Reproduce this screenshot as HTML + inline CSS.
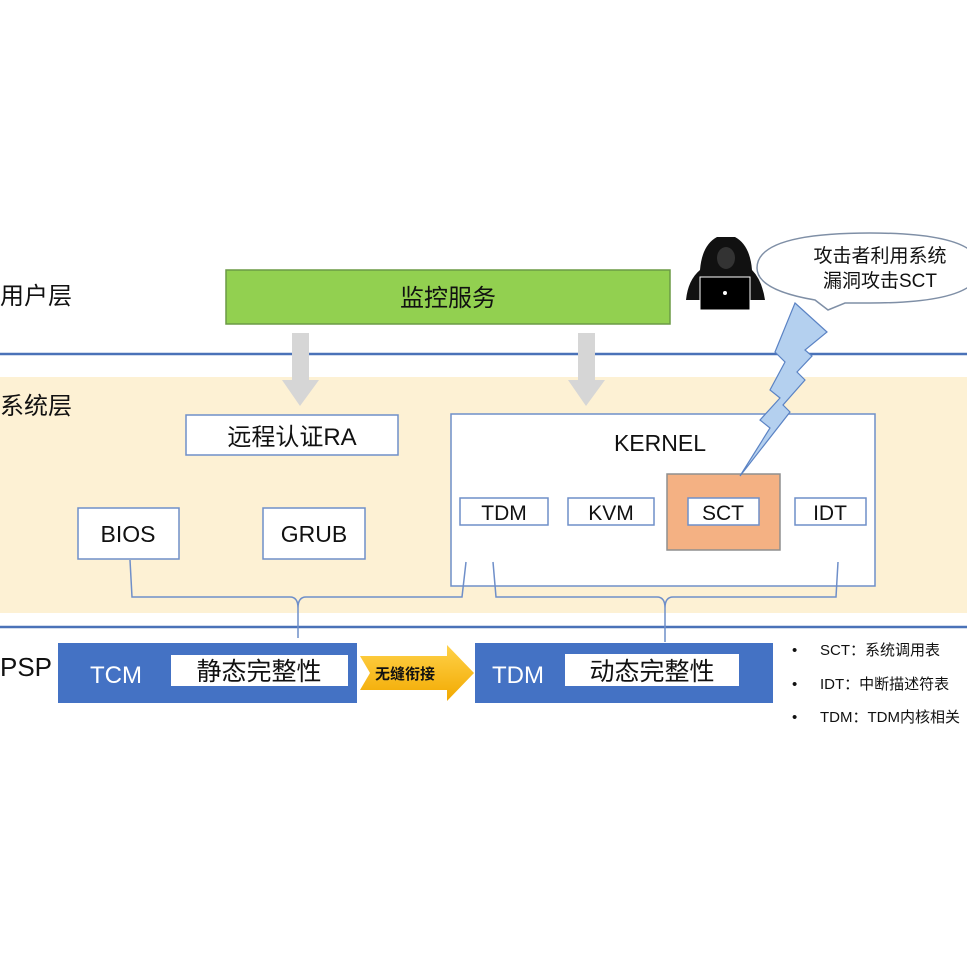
<!DOCTYPE html>
<html><head><meta charset="utf-8"><style>
html,body{margin:0;padding:0;background:#fff;}
svg{display:block;}
text{font-family:"Liberation Sans","Noto Sans CJK SC",sans-serif;}
</style></head><body>
<svg width="967" height="967" viewBox="0 0 967 967" xmlns="http://www.w3.org/2000/svg">
<defs>
<linearGradient id="ag" x1="0" y1="0" x2="0" y2="1">
<stop offset="0" stop-color="#ffd24a"/><stop offset="1" stop-color="#f2a900"/>
</linearGradient>
</defs>
<rect x="0" y="377" width="967" height="236" fill="#fdf1d4"/>
<line x1="0" y1="354" x2="967" y2="354" stroke="#4a72b8" stroke-width="2.5"/>
<line x1="0" y1="627" x2="967" y2="627" stroke="#4a72b8" stroke-width="2.5"/>
<text x="0" y="304" font-size="24" fill="#111">用户层</text>
<text x="0" y="414" font-size="24" fill="#111">系统层</text>
<text x="0" y="676" font-size="26" fill="#111">PSP</text>

<rect x="226" y="270" width="444" height="54" fill="#92d050" stroke="#6b9a45" stroke-width="1.5"/>
<text x="448" y="306" font-size="24" text-anchor="middle" fill="#111">监控服务</text>

<g fill="#d6d6d6">
<rect x="292" y="333" width="17" height="48"/><polygon points="282,380 319,380 300,406"/>
<rect x="578" y="333" width="17" height="48"/><polygon points="568,380 605,380 586,406"/>
</g>

<rect x="186" y="415" width="212" height="40" fill="#fff" stroke="#6f8fc9" stroke-width="1.5"/>
<text x="292" y="445" font-size="24" text-anchor="middle" fill="#111">远程认证RA</text>

<rect x="451" y="414" width="424" height="172" fill="#fff" stroke="#6f8fc9" stroke-width="1.5"/>
<text x="660" y="451" font-size="23" text-anchor="middle" fill="#111">KERNEL</text>
<rect x="667" y="474" width="113" height="76" fill="#f4b183" stroke="#8f8f8f" stroke-width="1.5"/>
<g fill="#fff" stroke="#6f8fc9" stroke-width="1.5">
<rect x="460" y="498" width="88" height="27"/>
<rect x="568" y="498" width="86" height="27"/>
<rect x="688" y="498" width="71" height="27"/>
<rect x="795" y="498" width="71" height="27"/>
<rect x="78" y="508" width="101" height="51"/>
<rect x="263" y="508" width="102" height="51"/>
</g>
<g font-size="21" text-anchor="middle" fill="#111">
<text x="504" y="520">TDM</text><text x="611" y="520">KVM</text>
<text x="723" y="520">SCT</text><text x="830" y="520">IDT</text>
<text x="128" y="542" font-size="23">BIOS</text><text x="314" y="542" font-size="23">GRUB</text>
</g>

<g fill="none" stroke="#6f8fc9" stroke-width="1.5">
<path d="M130,560 L132,597 L290,597 Q298,597 298,608 L298,638 M298,608 Q298,597 306,597 L462,597 L466,562"/>
<path d="M493,562 L496,597 L657,597 Q665,597 665,608 L665,642 M665,608 Q665,597 673,597 L836,597 L838,562"/>
</g>

<rect x="58" y="643" width="299" height="60" fill="#4472c4"/>
<rect x="171" y="655" width="177" height="31" fill="#fff"/>
<text x="116" y="683" font-size="24" text-anchor="middle" fill="#fff">TCM</text>
<text x="259" y="680" font-size="25" text-anchor="middle" fill="#111">静态完整性</text>
<rect x="475" y="643" width="298" height="60" fill="#4472c4"/>
<rect x="565" y="654" width="174" height="32" fill="#fff"/>
<text x="518" y="683" font-size="24" text-anchor="middle" fill="#fff">TDM</text>
<text x="652" y="680" font-size="25" text-anchor="middle" fill="#111">动态完整性</text>

<polygon points="360,656 447,656 447,645 474,673 447,701 447,690 360,690 370,673" fill="url(#ag)"/>
<text x="405" y="679" font-size="15" font-weight="bold" text-anchor="middle" fill="#111">无缝衔接</text>

<g font-size="15" fill="#111">
<text x="792" y="655">•</text><text x="820" y="655">SCT：系统调用表</text>
<text x="792" y="689">•</text><text x="820" y="689">IDT：中断描述符表</text>
<text x="792" y="722">•</text><text x="820" y="722">TDM：TDM内核相关</text>
</g>

<!-- hacker -->
<path d="M717,237 Q702,245 700,270 Q688,280 686,300 L765,300 Q762,280 752,270 Q750,245 735,237 Z" fill="#111"/>
<ellipse cx="726" cy="258" rx="9" ry="11" fill="#333"/>
<rect x="700" y="277" width="50" height="33" fill="#000" stroke="#fff" stroke-width="1"/>
<circle cx="725" cy="293" r="2" fill="#fff"/>

<!-- bubble -->
<path d="M815,300 Q757,290 757,268 Q757,233 870,233 Q980,233 980,268 Q980,303 870,303 L845,303 L828,310 Z" fill="#fff" stroke="#7f8fa6" stroke-width="1.5"/>
<text x="880" y="262" font-size="19" text-anchor="middle" fill="#111">攻击者利用系统</text>
<text x="880" y="287" font-size="19" text-anchor="middle" fill="#111">漏洞攻击SCT</text>

<polygon points="795,303 827,332 805,350 812,356 797,372 805,380 783,405 790,412 740,476 770,428 760,420 780,398 770,390 785,362 775,352" fill="#b4d0ef" stroke="#5b83c4" stroke-width="1.2"/>
</svg>
</body></html>
